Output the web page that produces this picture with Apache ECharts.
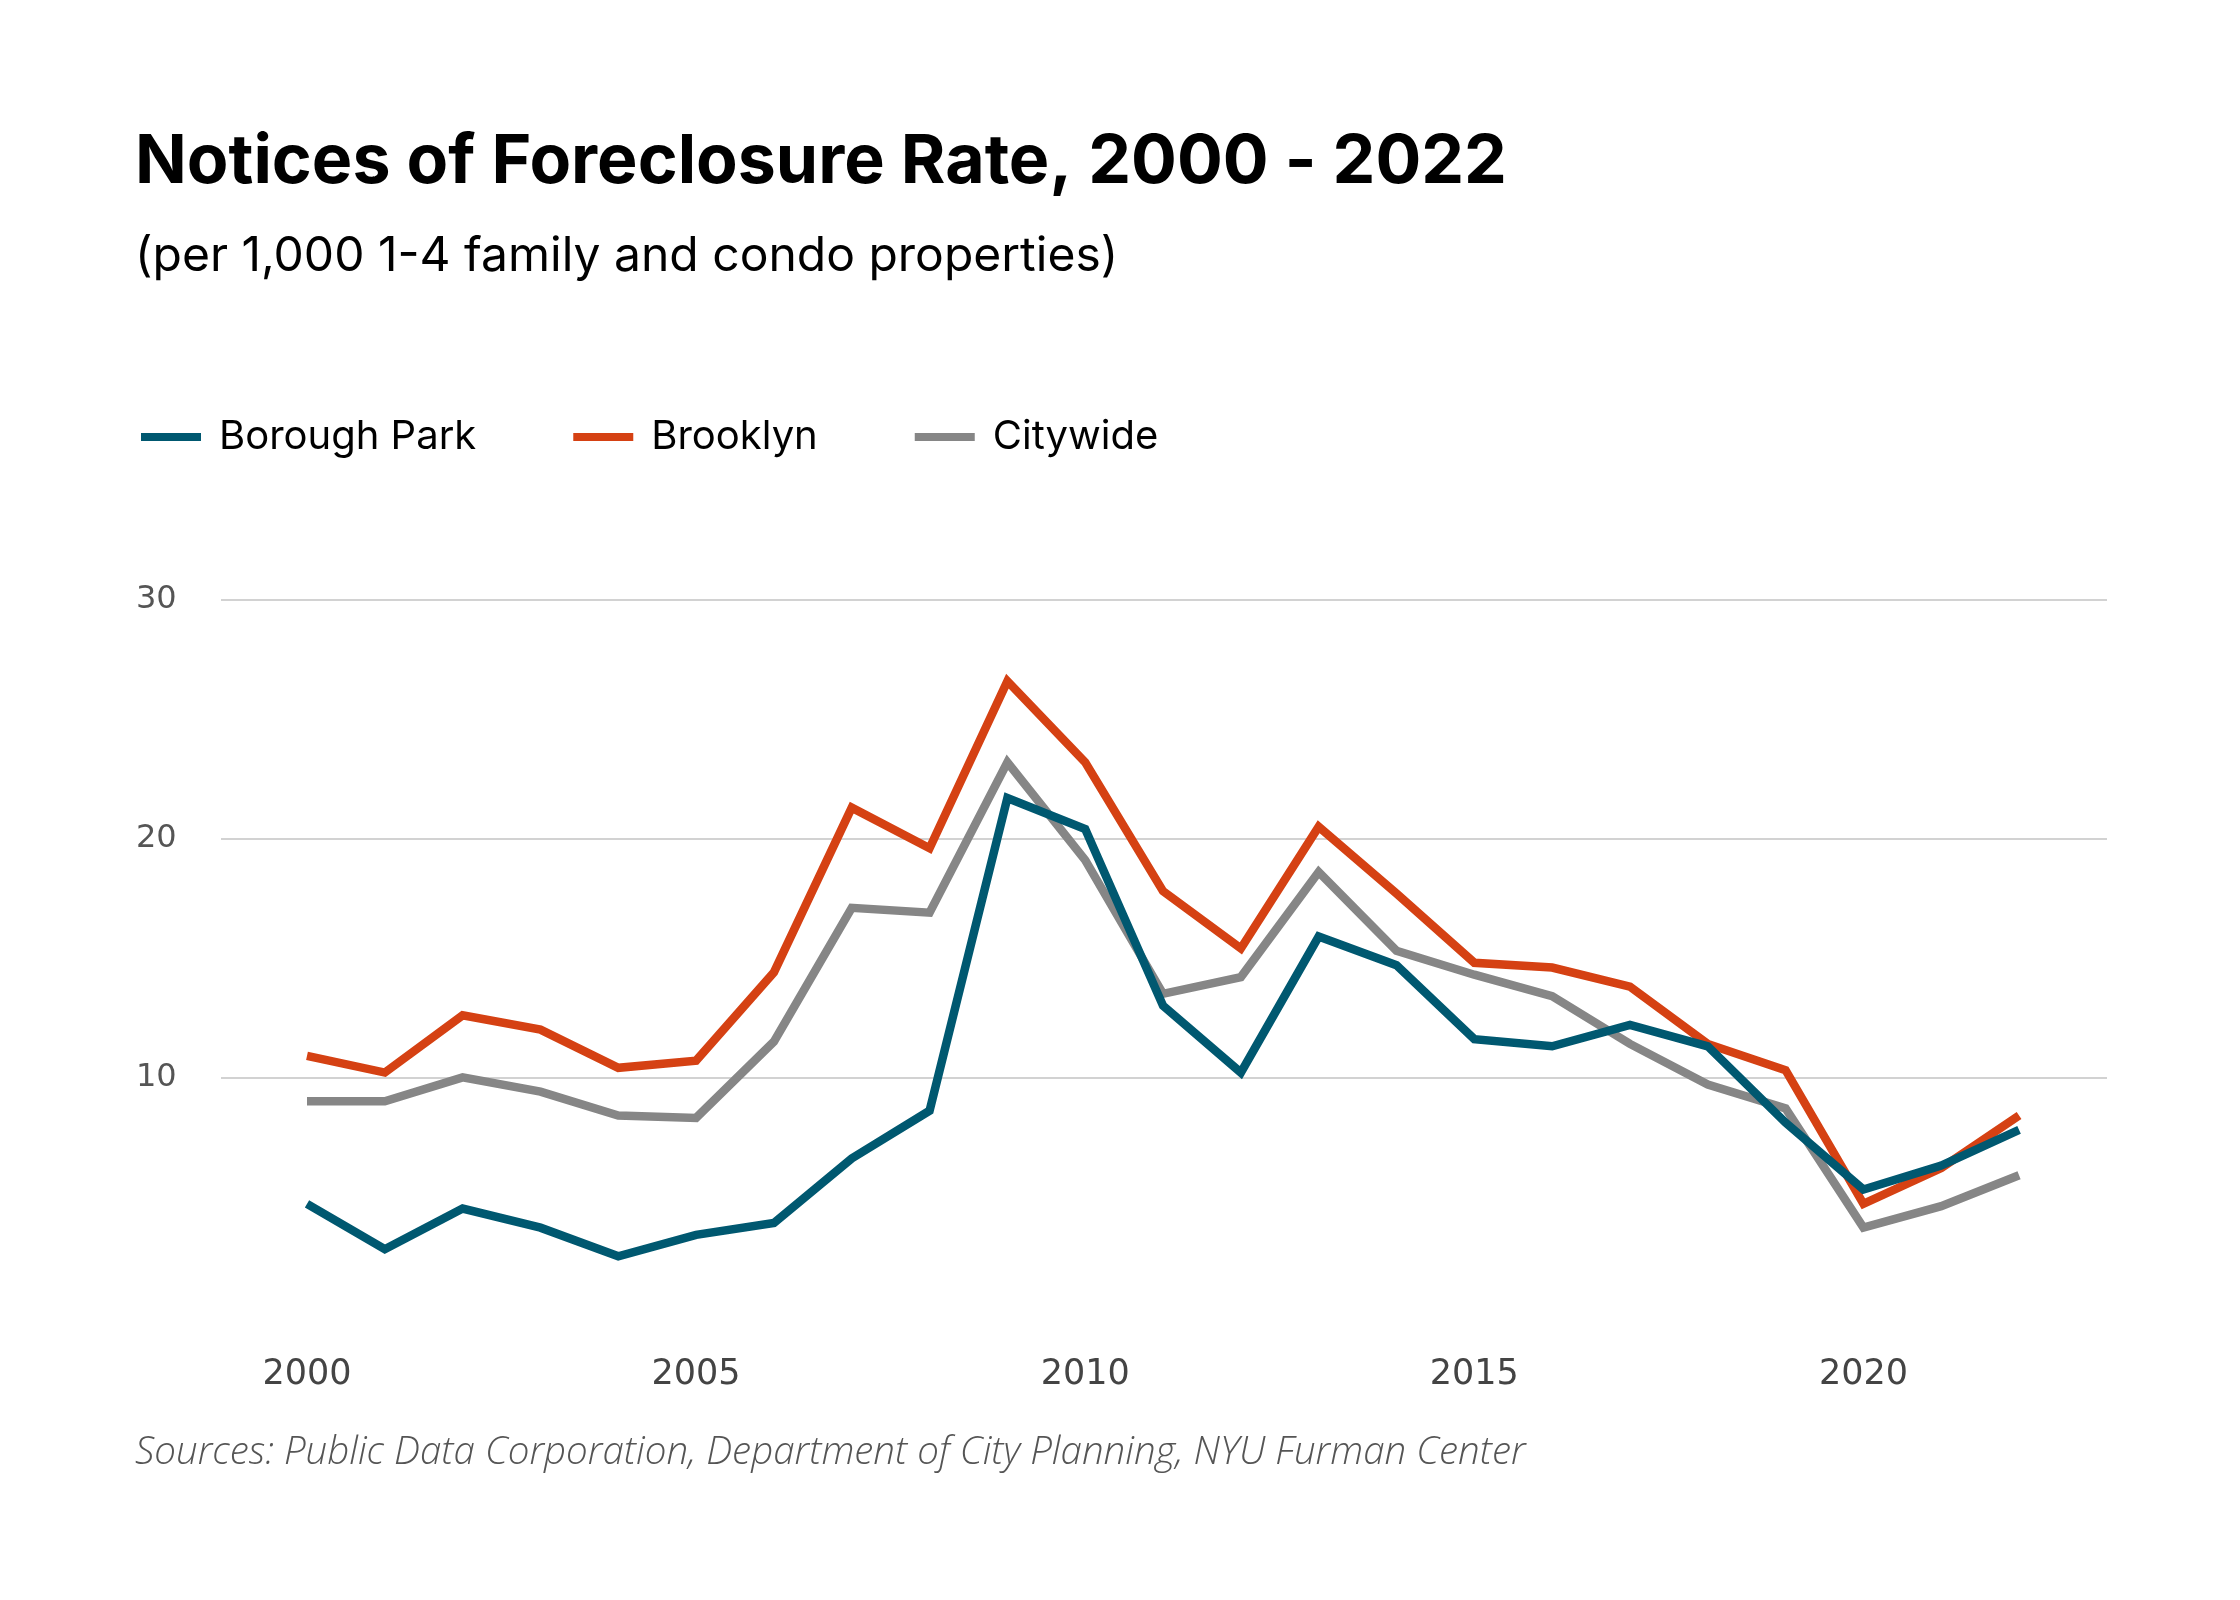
<!DOCTYPE html>
<html>
<head>
<meta charset="utf-8">
<title>Notices of Foreclosure Rate, 2000 - 2022</title>
<script src="https://cdn.jsdelivr.net/npm/echarts@6/dist/echarts.min.js"></script>
<style>
  html, body { margin: 0; padding: 0; background: #fff; }
  #chart { width: 2240px; height: 1600px; }
</style>
</head>
<body>
<div id="chart"></div>
<script>
const years = [2000, 2001, 2002, 2003, 2004, 2005, 2006, 2007, 2008, 2009, 2010, 2011,
  2012, 2013, 2014, 2015, 2016, 2017, 2018, 2019, 2020, 2021, 2022]

const boroughPark = [4.7, 2.8, 4.5, 3.7, 2.5, 3.4, 3.9, 6.6, 8.6, 21.7, 20.4, 13.0,
  10.2, 15.9, 14.7, 11.6, 11.3, 12.2, 11.3, 8.1, 5.3, 6.3, 7.8]
const brooklyn = [10.9, 10.2, 12.6, 12.0, 10.4, 10.7, 14.4, 21.3, 19.6, 26.6, 23.2, 17.8,
  15.4, 20.5, 17.7, 14.8, 14.6, 13.8, 11.4, 10.3, 4.7, 6.2, 8.4]
const citywide = [9.0, 9.0, 10.0, 9.4, 8.4, 8.3, 11.5, 17.1, 16.9, 23.2, 19.1, 13.5,
  14.2, 18.6, 15.3, 14.3, 13.4, 11.4, 9.7, 8.7, 3.7, 4.6, 5.9]

const xTicks = [2000, 2005, 2010, 2015, 2020]
const yTicks = [10, 20, 30]

const seriesNames = ['Borough Park', 'Brooklyn', 'Citywide']
const seriesColors = ['#005870', '#d54113', '#868686']

const chart = echarts.init(document.getElementById('chart'))

const toPairs = (vals) => years.map((y, i) => [y, vals[i]])

const option = {
  backgroundColor: '#ffffff',
  animation: false,
  title: [
    {
      text: 'Notices of Foreclosure Rate, 2000 - 2022',
      left: 130,
      top: 124,
      textStyle: { fontFamily: 'Inter', fontWeight: 'bold', fontSize: 68, color: '#000' }
    },
    {
      text: '(per 1,000 1-4 family and condo properties)',
      left: 130,
      top: 228,
      textStyle: { fontFamily: 'Inter', fontWeight: 'normal', fontSize: 48, color: '#000' }
    },
    {
      text: 'Sources: Public Data Corporation, Department of City Planning, NYU Furman Center',
      left: 130,
      top: 1429,
      textStyle: { fontFamily: 'Open Sans', fontStyle: 'italic', fontWeight: 300, fontSize: 38.5, color: '#555' }
    }
  ],
  legend: {
    left: 136,
    top: 412,
    icon: 'rect',
    itemWidth: 60,
    itemHeight: 8,
    itemGap: 97,
    data: seriesNames,
    textStyle: { fontFamily: 'Inter', fontSize: 40, color: '#000', padding: [0, 0, 0, 13] }
  },
  grid: {
    left: 221,
    right: 133,
    top: 600,
    bottom: 284
  },
  xAxis: {
    type: 'value',
    min: 1998.895,
    max: 2023.13,
    axisLine: { show: false },
    axisTick: { show: false },
    splitLine: { show: false },
    axisLabel: {
      customValues: xTicks,
      margin: 41,
      fontFamily: 'DejaVu Sans',
      fontSize: 35,
      color: '#444',
      formatter: (v) => String(v)
    }
  },
  yAxis: {
    type: 'value',
    min: 0,
    max: 30,
    interval: 10,
    axisLine: { show: false },
    axisTick: { show: false },
    splitLine: {
      show: true,
      lineStyle: { color: ['rgba(0,0,0,0)', '#d2d2d2', '#d2d2d2', '#d2d2d2'], width: 2 }
    },
    axisLabel: {
      align: 'left',
      margin: 85,
      padding: [8, 0, 0, 0],
      fontFamily: 'DejaVu Sans',
      fontSize: 32,
      color: '#555',
      formatter: (v) => (yTicks.indexOf(v) >= 0 ? String(v) : '')
    }
  },
  series: [boroughPark, brooklyn, citywide].map((vals, i) => ({
    name: seriesNames[i],
    type: 'line',
    data: toPairs(vals),
    symbol: 'none',
    color: seriesColors[i],
    lineStyle: { width: 8.5, color: seriesColors[i], join: 'miter' },
    z: 3 - i
  }))
}

chart.setOption(option)
</script>
</body>
</html>
